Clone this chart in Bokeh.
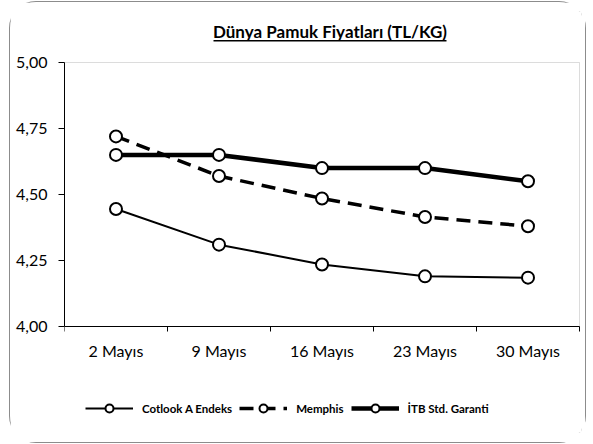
from bokeh.plotting import figure
from bokeh.models import (Range1d, FixedTicker, CustomJSTickFormatter, Legend, LegendItem,
                          Label, BoxAnnotation)
from bokeh.embed import file_html
from bokeh.resources import INLINE

# ---- data ----
categories = ["2 Mayıs", "9 Mayıs", "16 Mayıs", "23 Mayıs", "30 Mayıs"]
cotlook = [4.445, 4.31, 4.235, 4.19, 4.185]
memphis = [4.72, 4.57, 4.485, 4.415, 4.38]
itb = [4.65, 4.65, 4.60, 4.60, 4.55]
series_names = ["Cotlook A Endeks", "Memphis", "İTB Std. Garanti"]
y_ticks = [4.00, 4.25, 4.50, 4.75, 5.00]
y_min, y_max = 4.0, 5.0
title_text = "Dünya Pamuk Fiyatları (TL/KG)"

FONT = "Lato"
n = len(categories)
x = [i + 0.5 for i in range(n)]
bounds = [float(i) for i in range(n + 1)]

# layout constants (pixels)
PX_X = 103.0      # px per category
PX_Y = 264.0      # px per 1.0 of value
TOP_EXTRA = 51    # px of frame above the value area (title)
BOTTOM_EXTRA = 106  # px of frame below the value area (axis labels, legend)

p = figure(width=575, height=440, output_backend="svg", toolbar_location=None,
           x_range=Range1d(0, n + 2 / PX_X),
           y_range=Range1d(y_min - BOTTOM_EXTRA / PX_Y, y_max + TOP_EXTRA / PX_Y),
           min_border_left=54, min_border_right=4, min_border_top=9, min_border_bottom=10)
p.styles = {"margin-left": "10px", "margin-top": "2px",
            "box-shadow": "0 0 0 1px #8c8c8c", "border-radius": "26px"}
p.background_fill_color = "white"
p.border_fill_color = "white"
p.outline_line_color = None
p.xgrid.visible = False
p.ygrid.visible = False

# plot-area border (gray)
plot_box = BoxAnnotation(left=0, right=n, bottom=y_min, top=y_max,
                         fill_alpha=0, line_color="#8c8c8c", line_width=1, level="underlay")
p.add_layout(plot_box)

# x axis: labels at centers, ticks at category boundaries
xa = p.xaxis[0]
xa.fixed_location = y_min
xa.ticker = FixedTicker(ticks=x, minor_ticks=bounds)
xa.major_label_overrides = {xi: c for xi, c in zip(x, categories)}
xa.bounds = (0, n)
xa.major_tick_line_color = None
xa.major_tick_out = 0
xa.major_tick_in = 0
xa.minor_tick_out = 5
xa.minor_tick_in = 0
xa.minor_tick_line_color = "black"
xa.axis_line_color = "black"
xa.major_label_text_font = FONT
xa.major_label_text_font_size = "16px"
xa.major_label_text_color = "black"
xa.major_label_standoff = 9

ya = p.yaxis[0]
ya.ticker = FixedTicker(ticks=y_ticks)
ya.formatter = CustomJSTickFormatter(code="return tick.toFixed(2).replace('.', ',');")
ya.bounds = (y_min, y_max)
ya.major_tick_out = 6
ya.major_tick_in = 0
ya.minor_tick_line_color = None
ya.major_tick_line_color = "black"
ya.axis_line_color = "black"
ya.major_label_text_font = FONT
ya.major_label_text_font_size = "16px"
ya.major_label_text_color = "black"
ya.major_label_standoff = 11

mk = dict(size=12, fill_color="white", line_color="black", line_width=2)

l1 = p.line(x, cotlook, line_color="black", line_width=2)
m1 = p.scatter(x, cotlook, **mk)
l2 = p.line(x, memphis, line_color="black", line_width=3.5, line_dash="14 8")
m2 = p.scatter(x, memphis, **mk)
l3 = p.line(x, itb, line_color="black", line_width=4.5)
m3 = p.scatter(x, itb, **mk)

legend = Legend(items=[LegendItem(label=series_names[0], renderers=[l1, m1]),
                       LegendItem(label=series_names[1], renderers=[l2, m2]),
                       LegendItem(label=series_names[2], renderers=[l3, m3])],
                orientation="horizontal", location=(21, 14),
                glyph_width=48, glyph_height=20, label_standoff=9, spacing=7,
                padding=0, margin=0, border_line_color=None, background_fill_alpha=0,
                label_text_font=FONT, label_text_font_size="11.5px",
                label_text_font_style="bold", label_text_color="black")
p.add_layout(legend)

# title above the value area, with underline
title = Label(x=n / 2, y=y_max + 31 / PX_Y, x_offset=8, text=title_text,
              text_align="center", text_baseline="middle", text_font=FONT,
              text_font_size="17px", text_font_style="bold", text_color="black")
p.add_layout(title)
underline = BoxAnnotation(left=149 / PX_X, right=382 / PX_X,
                          bottom=y_max + 21 / PX_Y, top=y_max + 22.5 / PX_Y,
                          fill_color="black", fill_alpha=1, line_color=None)
p.add_layout(underline)

open("out.html", "w").write(file_html(p, INLINE))
